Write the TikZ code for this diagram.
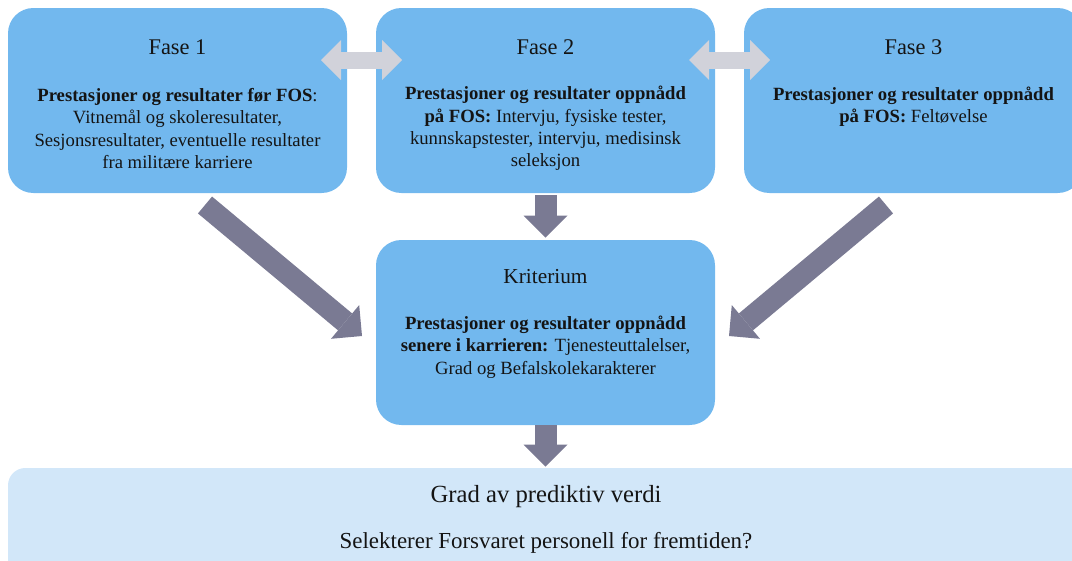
\documentclass[tikz,border=0pt]{standalone}
\usepackage{fontspec}
\setmainfont{Liberation Serif}
\newfontfamily\timesface{Liberation Serif}
\usetikzlibrary{arrows.meta}
\definecolor{boxblue}{HTML}{72B8EE}
\definecolor{paleblue}{HTML}{D2E7F9}
\definecolor{slatearrow}{HTML}{7A7A93}
\definecolor{greyarrow}{HTML}{D1D2DA}
\definecolor{ink}{HTML}{141414}
\begin{document}
\begin{tikzpicture}[x=0.75pt,y=-0.75pt,
  phasebox/.style={fill=boxblue,draw=none,rounded corners=19pt,inner sep=0pt,
    minimum width=254.25pt,minimum height=138.75pt},
  bottombox/.style={fill=paleblue,draw=none,rounded corners=13pt,inner sep=0pt,
    minimum width=810pt,minimum height=84pt},
  titletext/.style={text=ink,font=\timesface\fontsize{16.8}{20}\selectfont},
  bodytext/.style={text=ink,align=center,font=\timesface\fontsize{14}{16.75}\selectfont},
  flowarrow/.style={draw=slatearrow,line width=16.5pt,
    -{Triangle[width=33pt,length=16.5pt,line width=0pt]}},
  linkarrow/.style={draw=greyarrow,line width=12.75pt,
    {Triangle[width=30pt,length=15pt,line width=0pt]}-{Triangle[width=30pt,length=15pt,line width=0pt]}}
]
\useasboundingbox (0,0) rectangle (1072,561);
\clip (0,0) rectangle (1072,561);

% phase boxes
\node[phasebox] (f1) at (177.5,100.5) {};
\node[phasebox] (f2) at (545.5,100.5) {};
\node[phasebox] (f3) at (913.5,100.5) {};
\node[phasebox] (kr) at (545.5,332.5) {};
\node[bottombox] (bot) at (548,524) {};

% texts
\node[titletext] (t1) at (177.5,47) {Fase 1};
\node[bodytext] (b1) at (177.5,128.5) {\textbf{Prestasjoner og resultater før FOS}:\\Vitnemål og skoleresultater,\\Sesjonsresultater, eventuelle resultater\\fra militære karriere};
\node[titletext] (t2) at (545.5,47) {Fase 2};
\node[bodytext] (b2) at (545.5,128.5) {\textbf{Prestasjoner og resultater oppnådd}\\\textbf{på FOS:} Intervju, fysiske tester,\\kunnskapstester, intervju, medisinsk\\seleksjon};
\node[titletext] (t3) at (913.5,47) {Fase 3};
\node[bodytext] (b3) at (913.5,106.5) {\textbf{Prestasjoner og resultater oppnådd}\\\textbf{på FOS:} Feltøvelse};
\node[titletext,font=\timesface\fontsize{16}{20}\selectfont] (tk) at (545.5,277) {Kriterium};
\node[bodytext] (bk) at (545.5,347) {\textbf{Prestasjoner og resultater oppnådd}\\\textbf{senere i karrieren:} Tjenesteuttalelser,\\Grad og Befalskolekarakterer};
\node[titletext,font=\timesface\fontsize{18.5}{22}\selectfont] (tb) at (546,497) {Grad av prediktiv verdi};
\node[bodytext,font=\timesface\fontsize{17.2}{20}\selectfont] (bb) at (546,543) {Selekterer Forsvaret personell for fremtiden?};

% links between phases
\coordinate (l12a) at (321,60);
\coordinate (l12b) at (402,60);
\coordinate (l23a) at (689,60);
\coordinate (l23b) at (770,60);
\draw[linkarrow] (l12a) -- (l12b);
\draw[linkarrow] (l23a) -- (l23b);

% flow towards the criterion and the result
\coordinate (s1) at (205,205);
\coordinate (e1) at (362,336);
\coordinate (s3) at (886,205);
\coordinate (e3) at (729,336);
\draw[flowarrow] (s1) -- (e1);
\draw[flowarrow] (s3) -- (e3);
\draw[flowarrow,shorten <=1.5pt,shorten >=1.5pt] (f2.south) -- (kr.north);
\draw[flowarrow,shorten <=0pt,shorten >=0.75pt] (kr.south) -- (kr.south |- bot.north);
\end{tikzpicture}
\end{document}
